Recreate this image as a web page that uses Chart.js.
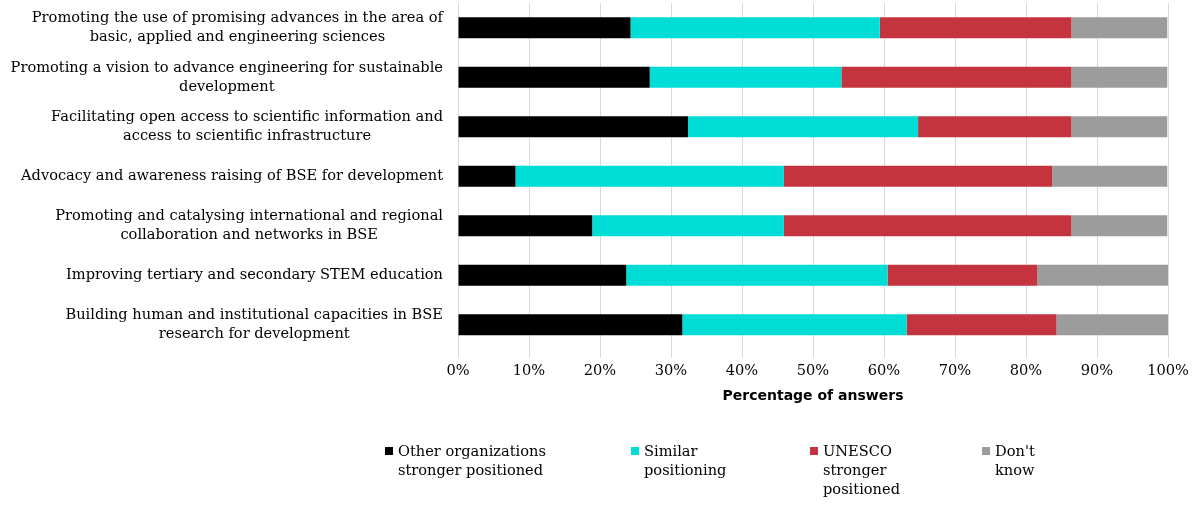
<!DOCTYPE html>
<html>
<head>
<meta charset="utf-8">
<script src="https://cdn.jsdelivr.net/npm/chart.js@4"></script>
<style>
  html, body { margin: 0; padding: 0; background: #fff; }
  #wrap { position: relative; width: 1198px; height: 506px; }
  #legend { position: absolute; left: 0; top: 441px; width: 1198px; font-family: "DejaVu Serif", serif; font-size: 14.6px; line-height: 19px; color: #000; }
  .item { position: absolute; top: 0; }
  .box { position: absolute; left: 0; top: 6px; width: 8px; height: 8px; }
  .txt { position: absolute; left: 13px; top: 0; white-space: nowrap; }
</style>
</head>
<body>
<div id="wrap">
  <canvas id="myChart" width="1198" height="506"></canvas>
  <div id="legend"></div>
</div>
<script>
// categories (top to bottom)
const categories = [
    ['Promoting the use of promising advances in the area of', 'basic, applied and engineering sciences'],
    ['Promoting a vision to advance engineering for sustainable', 'development'],
    ['Facilitating open access to scientific information and', 'access to scientific infrastructure'],
    ['Advocacy and awareness raising of BSE for development'],
    ['Promoting and catalysing international and regional', 'collaboration and networks in BSE'],
    ['Improving tertiary and secondary STEM education'],
    ['Building human and institutional capacities in BSE', 'research for development']
];

// series values (% of answers)
const otherStronger = [24.3, 27.0, 32.4, 8.1, 18.9, 23.7, 31.6];
const similar = [35.1, 27.0, 32.4, 37.8, 27.0, 36.8, 31.6];
const unescoStronger = [27.0, 32.4, 21.6, 37.8, 40.5, 21.1, 21.1];
const dontKnow = [13.5, 13.5, 13.5, 16.2, 13.5, 18.4, 15.8];

const seriesNames = ['Other organizations stronger positioned', 'Similar positioning', 'UNESCO stronger positioned', "Don't know"];
const legendLines = [['Other organizations', 'stronger positioned'], ['Similar', 'positioning'], ['UNESCO', 'stronger', 'positioned'], ["Don't", 'know']];
const colors = ['#000000', '#00DDD7', '#C4343F', '#9C9C9C'];

const xTicks = [0, 10, 20, 30, 40, 50, 60, 70, 80, 90, 100];

const serif = '"DejaVu Serif", serif';

// y labels: right-aligned block, lines centred inside it
const categoryLabels = {
    id: 'categoryLabels',
    afterDraw(chart) {
        const ctx = chart.ctx;
        const yScale = chart.scales.y;
        const right = chart.chartArea.left - 15;
        const lh = 19;
        ctx.save();
        ctx.font = '14.6px ' + serif;
        ctx.fillStyle = '#000';
        ctx.textAlign = 'center';
        ctx.textBaseline = 'middle';
        categories.forEach((lines, i) => {
            const yc = yScale.getPixelForValue(i);
            const w = Math.max(...lines.map(l => ctx.measureText(l).width));
            const cx = right - w / 2;
            const y0 = yc - (lines.length - 1) * lh / 2;
            lines.forEach((l, j) => ctx.fillText(l, cx, y0 + j * lh));
        });
        ctx.restore();
    }
};

const ctx = document.getElementById('myChart').getContext('2d');
const barChart = new Chart(ctx, {
    type: 'bar',
    data: {
        labels: categories,
        datasets: [otherStronger, similar, unescoStronger, dontKnow].map((d, i) => ({
            label: seriesNames[i],
            data: d,
            backgroundColor: colors[i],
            borderWidth: 0,
            barPercentage: 0.85,
            categoryPercentage: 0.5
        }))
    },
    options: {
        indexAxis: 'y',
        responsive: false,
        animation: false,
        layout: {
            padding: { left: 458, right: 30, top: 3, bottom: 101 }
        },
        plugins: {
            legend: { display: false },
            tooltip: { enabled: false }
        },
        scales: {
            x: {
                stacked: true,
                min: 0,
                max: 100,
                afterBuildTicks: axis => { axis.ticks = xTicks.map(v => ({ value: v })); },
                grid: { color: '#d9d9d9', tickLength: 8 },
                border: { display: false },
                ticks: {
                    padding: 6,
                    color: '#000',
                    font: { family: serif, size: 14.6, lineHeight: 1 },
                    callback: v => v + '%'
                },
                title: {
                    display: true,
                    text: 'Percentage of answers',
                    color: '#000',
                    font: { family: '"DejaVu Sans", sans-serif', size: 14, weight: 'bold' },
                    padding: { top: 4, bottom: 0 }
                }
            },
            y: {
                stacked: true,
                display: false
            }
        }
    },
    plugins: [categoryLabels]
});

// legend
const legendLeft = [385, 631, 810, 982];
const legend = document.getElementById('legend');
legendLines.forEach((lines, i) => {
    const item = document.createElement('div');
    item.className = 'item';
    item.style.left = legendLeft[i] + 'px';
    item.innerHTML = '<div class="box" style="background:' + colors[i] + '"></div>' +
        '<div class="txt">' + lines.join('<br>') + '</div>';
    legend.appendChild(item);
});
</script>
</body>
</html>
